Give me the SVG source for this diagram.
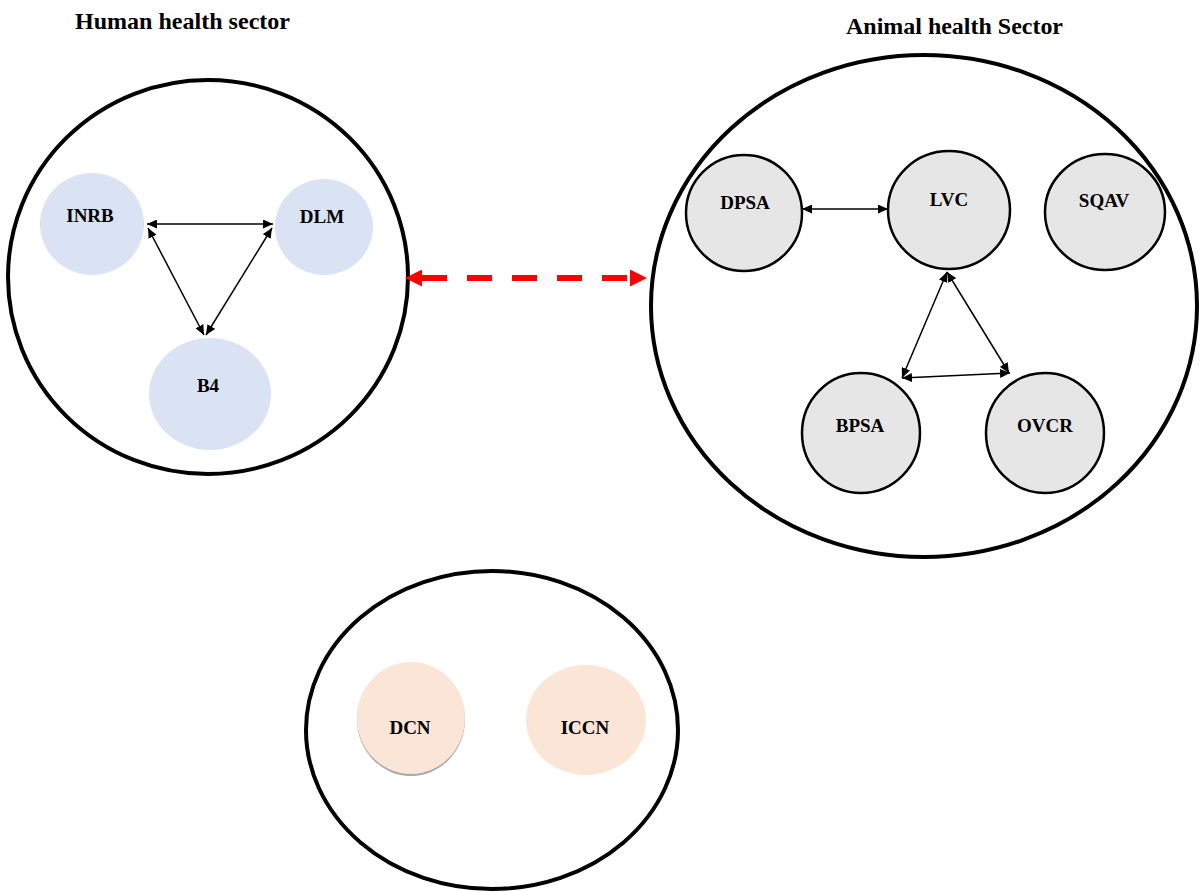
<svg xmlns="http://www.w3.org/2000/svg" width="1200" height="892" viewBox="0 0 1200 892">
<style>
.sector{fill:none;stroke:#000;stroke-width:4}
.title{font-family:"Liberation Serif","Times New Roman",serif;font-weight:bold;font-size:24px;fill:#000}
.lbl{font-family:"Liberation Serif","Times New Roman",serif;font-weight:bold;font-size:19px;fill:#000;text-anchor:middle}
.human{fill:#dae3f3}
.animal{fill:#e6e6e6;stroke:#000;stroke-width:2.5}
.cons{fill:#fbe5d6}
.link{stroke:#000;stroke-width:1.5;fill:none;marker-start:url(#ah);marker-end:url(#ah)}
.inter{stroke:#ff0000;stroke-width:6;stroke-dasharray:25 20;fill:none;marker-start:url(#rh);marker-end:url(#rh)}
</style>
<defs>
<marker id="ah" markerUnits="userSpaceOnUse" markerWidth="11" markerHeight="9" refX="10" refY="4.5" orient="auto-start-reverse" viewBox="0 0 11 9">
<path d="M0,0 L10,4.5 L0,9 z" fill="#000"/>
</marker>
<marker id="rh" markerUnits="userSpaceOnUse" markerWidth="18" markerHeight="17" refX="0" refY="8.5" orient="auto-start-reverse" viewBox="0 0 18 17">
<path d="M0,0 L17,8.5 L0,17 z" fill="#ff0000"/>
</marker>
</defs>
<rect width="1200" height="892" fill="#fff"/>

<g id="human-sector">
<ellipse class="sector" cx="208" cy="277" rx="200" ry="197"/>
<text class="title" x="75" y="29" textLength="215" lengthAdjust="spacingAndGlyphs">Human health sector</text>
</g>
<g id="animal-sector">
<ellipse class="sector" cx="924" cy="306" rx="273" ry="251"/>
<text class="title" x="846" y="34" textLength="217" lengthAdjust="spacingAndGlyphs">Animal health Sector</text>
</g>
<g id="consumer-sector">
<ellipse class="sector" cx="492" cy="730" rx="186" ry="159"/>
</g>

<g id="INRB"><ellipse class="human" cx="92" cy="224" rx="52" ry="51"/><text class="lbl" x="90" y="222">INRB</text></g>
<g id="DLM"><ellipse class="human" cx="324" cy="227" rx="49" ry="48"/><text class="lbl" x="322" y="223">DLM</text></g>
<g id="B4"><ellipse class="human" cx="210" cy="394" rx="61" ry="56"/><text class="lbl" x="208" y="392">B4</text></g>

<g id="DPSA"><ellipse class="animal" cx="744" cy="213" rx="58" ry="58"/><text class="lbl" x="745" y="209">DPSA</text></g>
<g id="LVC"><ellipse class="animal" cx="949" cy="210" rx="61" ry="59"/><text class="lbl" x="949" y="206">LVC</text></g>
<g id="SQAV"><ellipse class="animal" cx="1105" cy="212" rx="60" ry="58"/><text class="lbl" x="1104" y="207">SQAV</text></g>
<g id="BPSA"><ellipse class="animal" cx="861" cy="433" rx="59" ry="60"/><text class="lbl" x="860" y="432">BPSA</text></g>
<g id="OVCR"><ellipse class="animal" cx="1045" cy="433" rx="59" ry="60"/><text class="lbl" x="1045" y="432">OVCR</text></g>

<g id="DCN"><ellipse cx="411" cy="719.5" rx="54" ry="56.5" fill="#a8a8a8"/><ellipse class="cons" cx="411" cy="718" rx="54" ry="56"/><text class="lbl" x="410" y="734">DCN</text></g>
<g id="ICCN"><ellipse class="cons" cx="586" cy="720" rx="60" ry="55"/><text class="lbl" x="585" y="734">ICCN</text></g>

<g id="connectors">
<line class="link" x1="147" y1="224" x2="273" y2="224"/>
<line class="link" x1="148" y1="228" x2="204" y2="335"/>
<line class="link" x1="272" y1="228" x2="206" y2="335"/>
<line class="link" x1="802" y1="209" x2="888" y2="209"/>
<line class="link" x1="947" y1="272" x2="902" y2="378"/>
<line class="link" x1="947" y1="272" x2="1009" y2="373"/>
<line class="link" x1="902" y1="378" x2="1010" y2="373"/>
<line class="inter" x1="422" y1="278" x2="630" y2="278"/>
</g>
</svg>
